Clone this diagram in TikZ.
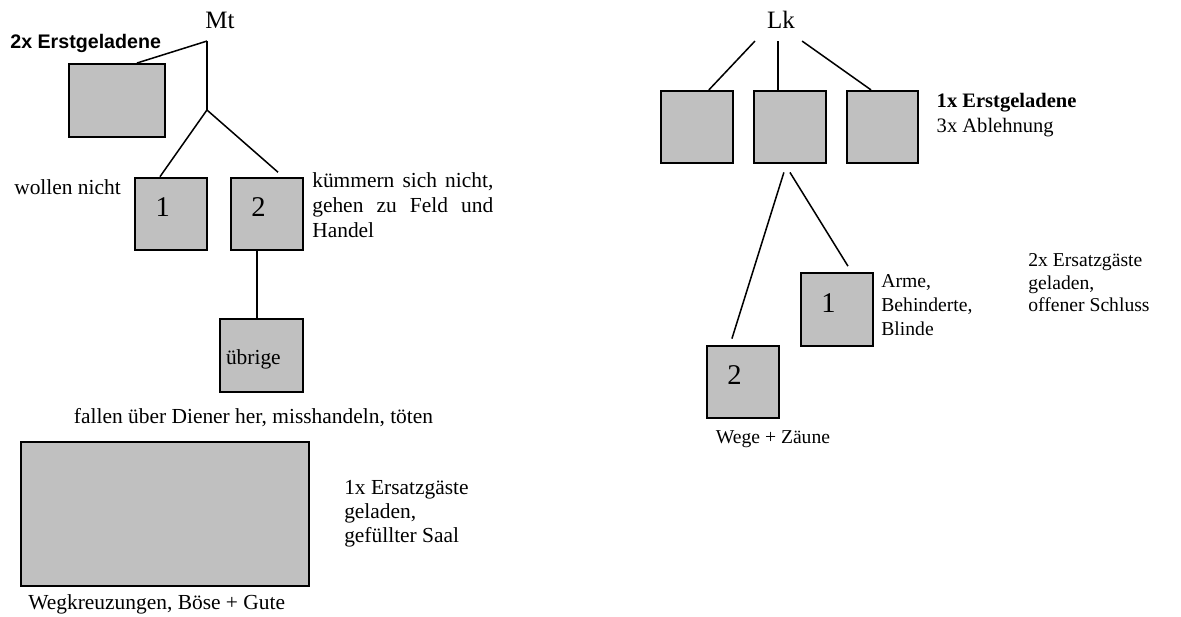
\documentclass[tikz,border=0pt]{standalone}
\usepackage{fontspec}
\setmainfont{Liberation Serif}
\newfontfamily\headsans{Liberation Sans}
\usepackage{tikz}
\usetikzlibrary{calc}
\definecolor{boxgray}{RGB}{192,192,192}

\begin{document}
\begin{tikzpicture}[
  box/.style={shape = rectangle, minimum width=40pt, minimum height = 40.6pt, inner sep=0pt, line width=1.1pt, draw=black, fill=boxgray},
  digit/.style={label={[font=\fontsize{16}{19}\selectfont, shift={(-4.7pt,3.6pt)}]center:#1}},
  txt/.style={inner sep=0pt, font=\fontsize{12}{13.4}\selectfont},
  rtxt/.style={inner sep=0pt, font=\fontsize{11}{13.2}\selectfont},
  link/.style={line width=0.85pt, draw=black}]
\useasboundingbox (0pt,0pt) rectangle (661.4pt,-345pt);
% Mt
\node[inner sep=0pt, anchor=base, font=\fontsize{14}{16}\selectfont] (mt) at (123.2pt,-15.7pt) {Mt} ;
\coordinate (mtfork) at (115.9pt,-23pt) ;
\coordinate (mtsplit) at (115.9pt,-61.6pt) ;
\node[inner sep=0pt, anchor=base west, font=\headsans\bfseries\fontsize{11}{13}\selectfont] (erst) at (5.6pt,-26.9pt) {2x Erstgeladene} ;
\node[box, minimum width=53.8pt, minimum height = 40.9pt] (gast) at (65.5pt,-56.3pt) {} ;
\node[box, digit=1] (m1) at (95.8pt,-119.8pt) {} ;
\node[box, digit=2] (m2) at (149.5pt,-119.8pt) {} ;
\node[txt, anchor=base west] (nicht) at (7.8pt,-109.2pt) {wollen nicht} ;
\node[txt, anchor=north west, text width=101.4pt, align=justify, font=\fontsize{12}{14}\selectfont] (feld) at (174.7pt,-96.5pt)
  {kümmern sich nicht,\linebreak gehen zu Feld und\linebreak Handel} ;
\node[box, minimum width=46.5pt, minimum height = 40.9pt, label={[txt, shift={(-4.5pt,-2pt)}]center:übrige}] (uebrig) at (146.4pt,-199.1pt) {} ;
\node[txt, anchor=base] (diener) at (142pt,-236.9pt) {fallen über Diener her, misshandeln, töten} ;
\node[box, minimum width=161.3pt, minimum height = 80.6pt] (saal) at (92.4pt,-287.8pt) {} ;
\node[txt, anchor=north west, align=left] (ersatz1) at (192.6pt,-269pt) {1x Ersatzgäste\\geladen,\\gefüllter Saal} ;
\node[txt, anchor=base west] (kreuz) at (15.7pt,-341.6pt) {Wegkreuzungen, Böse + Gute} ;
\draw[link] (mtfork) -- (mtsplit) ;
\draw[link] (mtfork) -- ([xshift=11.2pt]gast.north) ;
\draw[link] (mtsplit) -- ([xshift=-6.2pt]m1.north) ;
\draw[link] (mtsplit) -- ([xshift=6.2pt, yshift=2.5pt]m2.north) ;
\draw[link] ([xshift=-5.6pt]m2.south) -- ([xshift=-5.6pt]m2.south |- uebrig.north) ;
% Lk
\node[inner sep=0pt, anchor=base, font=\fontsize{14}{16}\selectfont] (lk) at (437.4pt,-15.7pt) {Lk} ;
\foreach \n/\x/\s/\e in {la/390.3/-14.6/6.7, lb/442.4/-1.7/-6.7, lc/494.2/11.8/-6.4}
  {\node[box] (\n) at (\x pt,-71.2pt) {} ;
   \draw[link] ([shift={(\s pt,-7.3pt)}]lk.base) -- ([xshift=\e pt]\n.north) ;}
\node[rtxt, anchor=north west, align=left, font=\fontsize{11.5}{14}\selectfont] (ablehn) at (524.4pt,-52.2pt) {\textbf{1x Erstgeladene}\\3x Ablehnung} ;
\node[box, digit=1] (r1) at (468.7pt,-173.3pt) {} ;
\node[box, digit=2] (r2) at (416.1pt,-213.9pt) {} ;
\node[rtxt, anchor=north west, align=left] (arme) at (493.4pt,-153.8pt) {Arme,\\Behinderte,\\Blinde} ;
\node[rtxt, anchor=north west, align=left, font=\fontsize{11}{12.6}\selectfont] (ersatz2) at (575.7pt,-142pt) {2x Ersatzgäste\\geladen,\\offener Schluss} ;
\node[rtxt, anchor=base] (zaun) at (432.9pt,-248.1pt) {Wege + Zäune} ;
\draw[link] ([xshift=-3.4pt, yshift=-4.5pt]lb.south) -- ([xshift=-6.2pt, yshift=3.4pt]r2.north) ;
\draw[link] ([yshift=-4.5pt]lb.south) -- ([xshift=6.2pt, yshift=3.4pt]r1.north) ;
\end{tikzpicture}
\end{document}
